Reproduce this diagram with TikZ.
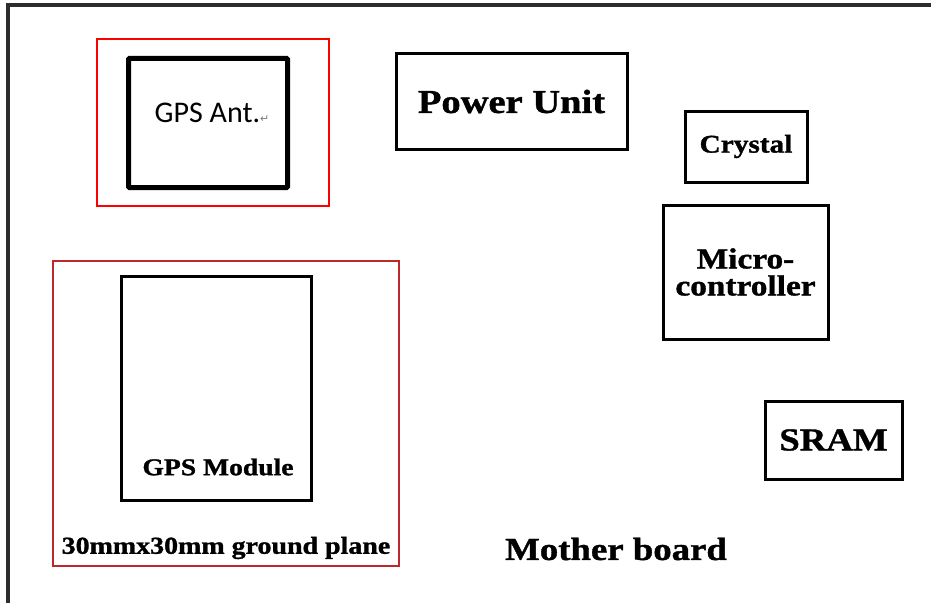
\documentclass[tikz,border=0pt]{standalone}
\usepackage{fontspec}
\setmainfont{Liberation Serif}
\newfontfamily\lblfont{Liberation Serif Bold}[FakeStretch=1.15, FakeBold=1.2]
\newfontfamily\antfont{Carlito}
\newfontfamily\markfont{DejaVu Sans}
\definecolor{boardgray}{RGB}{45,45,45}
\definecolor{gndred}{RGB}{190,40,42}

\begin{document}
\begin{tikzpicture}[x=1pt,y=-1pt,
  box/.style={draw, line width=3pt, inner sep=0pt, align=center},
  lbl/.style={font=\lblfont, inner sep=0pt, align=center}]
\useasboundingbox (0,0) rectangle (931,602);
% mother board outline
\draw[boardgray, line width=3.2pt] (8,605) -- (8,5) -- (935,5);
% antenna and its keep-out
\node[draw=red, line width=2pt, minimum width=232pt, minimum height=167pt] (antarea) at (213,122.5) {};
\node[draw, line width=5pt, rounded corners=1pt, minimum width=159pt, minimum height=129pt] (ant) at (208,123) {};
\node[font=\antfont\fontsize{30}{32}\selectfont, inner sep=0pt] (anttxt) at (212,113) {GPS Ant.\textcolor{gray}{\markfont\fontsize{11}{11}\selectfont ↵}};
% blocks on the board
\node[box, minimum width=231pt, minimum height=95pt, font=\lblfont\fontsize{33.5}{36}\selectfont] (pwr) at (511.5,101.5) {Power Unit};
\node[box, minimum width=122pt, minimum height=71pt, font=\lblfont\fontsize{25.5}{28}\selectfont] (xtal) at (746,146.5) {Crystal};
\node[box, minimum width=165pt, minimum height=134pt, font=\lblfont\fontsize{29}{27}\selectfont] (mcu) at (745.5,272) {Micro-\\controller};
\node[box, minimum width=137pt, minimum height=78pt, font=\lblfont\fontsize{32}{34}\selectfont] (sram) at (833.5,440) {SRAM};
% ground plane with module
\node[draw=gndred, line width=2pt, minimum width=346pt, minimum height=305pt] (gnd) at (226,413.5) {};
\node[box, minimum width=190pt, minimum height=224pt] (gps) at (216.5,388.5) {};
\node[lbl, font=\lblfont\fontsize{24}{26}\selectfont] (gpstxt) at (218,467) {GPS Module};
\node[lbl, font=\lblfont\fontsize{24.3}{26}\selectfont] (gndtxt) at (226,548) {30mmx30mm ground plane};
\node[lbl, font=\lblfont\fontsize{32}{34}\selectfont] (mb) at (616,549) {Mother board};
\end{tikzpicture}
\end{document}
